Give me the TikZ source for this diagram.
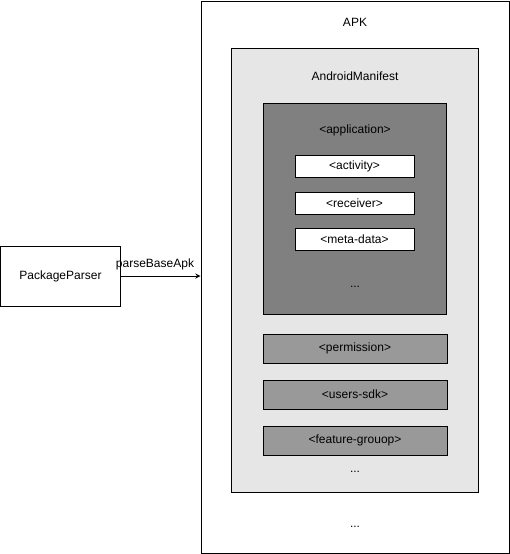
\documentclass[tikz,border=0pt]{standalone}
\usepackage{fontspec}
\setmainfont{Liberation Sans}
\usetikzlibrary{arrows}
\definecolor{manifestgray}{HTML}{E6E6E6}
\definecolor{appgray}{HTML}{808080}
\definecolor{taggray}{HTML}{999999}
\tikzset{
  box/.style = {rectangle, draw=black, line width=0.75pt, inner sep=0pt, font=\fontsize{9}{11}\selectfont},
  box_white/.style = {box, fill=white},
  box_tag/.style = {box, fill=taggray, minimum width=138pt, minimum height=21.75pt},
  box_item/.style = {box_white, minimum width=89.25pt, minimum height=16.5pt},
  txt/.style = {inner sep=0pt, font=\fontsize{9}{11}\selectfont},
}

\begin{document}
\begin{tikzpicture}[x=0.75pt, y=-0.75pt]
  \useasboundingbox (0,0) rectangle (510,554);
  % containers
  \node [box_white, minimum width=231pt, minimum height=414pt] (apk) at (355,277) {};
  \node [box, fill=manifestgray, minimum width=185.25pt, minimum height=333pt] (manifest) at (354.5,270) {};
  \node [box, fill=appgray, minimum width=137.25pt, minimum height=158.25pt] (app) at (354.5,208.5) {};
  \node [txt] (apklabel) at (355,22) {APK};
  \node [txt] (manifestlabel) at (355,76) {AndroidManifest};
  \node [txt] (applabel) at (355,130) {<application>};
  % application children
  \node [box_item] (activity) at (354.5,166) {<activity>};
  \node [box_item] (receiver) at (354.5,203) {<receiver>};
  \node [box_item] (metadata) at (354.5,239) {<meta-data>};
  \node [txt] (appdots) at (355,287) {...};
  % manifest tags
  \node [box_tag] (permission) at (355,348.5) {<permission>};
  \node [box_tag] (usessdk) at (355,394.5) {<users-sdk>};
  \node [box_tag] (featuregroup) at (355,440.5) {<feature-grouop>};
  \node [txt] (manifestdots) at (355,472) {...};
  \node [txt] (apkdots) at (355,527) {...};
  % parser
  \node [box_white, minimum width=89.5pt, minimum height=45pt] (parser) at (60.5,276) {PackageParser};
  \draw [-stealth, line width=0.75pt] (parser.east) -- (parser.east -| apk.west);
  \node [txt] (parselabel) at (155,264) {parseBaseApk};
\end{tikzpicture}
\end{document}
